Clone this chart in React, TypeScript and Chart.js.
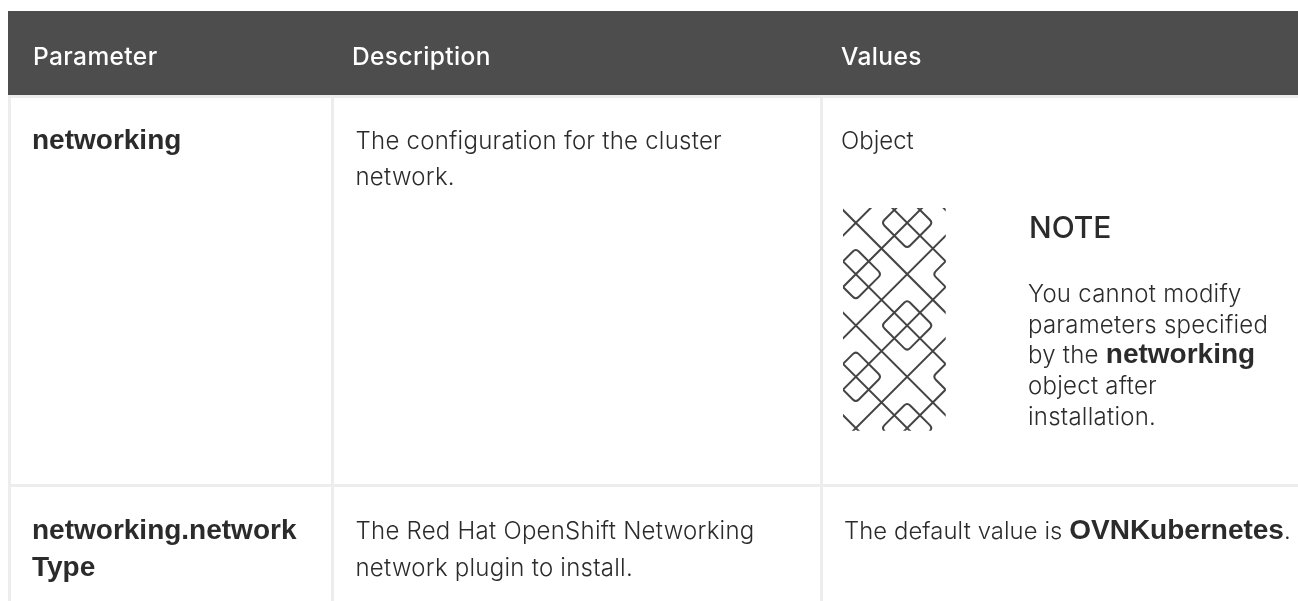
import React, { useEffect, useRef } from "react";
import { Chart, registerables } from "chart.js";

Chart.register(...registerables);

// ---- table content ----
const headers = ["Parameter", "Description", "Values"];
const rowNames = [["networking"], ["networking.network", "Type"]];
const descriptions = [
  ["The configuration for the cluster", "network."],
  ["The Red Hat OpenShift Networking", "network plugin to install."],
];
const objectValue = "Object";
const noteTitle = "NOTE";
const noteLines = [
  [["You cannot modify", false]],
  [["parameters specified", false]],
  [["by the ", false], ["networking", true]],
  [["object after", false]],
  [["installation.", false]],
];
const defaultValue = [["The default value is ", false], ["OVNKubernetes", true], [".", false]];

// pattern lattice: whole diagonals (mod 8) and diamonds, in lattice units
const diffLines = [0, 4];
const sumLines = [2, 6];
const diamonds = [[5, 1], [1, 5]];

const W = 1298;
const H = 601;
const REG = "Inter";
const BOLD = "'Liberation Sans'";
const INK = "#2b2b2b";
const RULE = "#ededed";

const tablePlugin = {
  id: "table",
  beforeDraw(chart: any) {
    const { ctx } = chart;
    const X = (v: number) => chart.scales.x.getPixelForValue(v);
    const Y = (v: number) => chart.scales.y.getPixelForValue(v);
    const rect = (x0: number, y0: number, x1: number, y1: number, c: string) => {
      ctx.fillStyle = c;
      ctx.fillRect(X(x0), Y(y0), X(x1) - X(x0), Y(y1) - Y(y0));
    };
    const reg = (s: number) => `300 ${s}px ${REG}`;
    const bold = (s: number) => `700 ${s}px ${BOLD}`;
    const text = (t: string, x: number, y: number, font: string, color = INK, sp = "0px") => {
      ctx.font = font;
      ctx.fillStyle = color;
      (ctx as any).letterSpacing = sp;
      ctx.textBaseline = "alphabetic";
      ctx.fillText(t, X(x), Y(y));
      const w = ctx.measureText(t).width;
      (ctx as any).letterSpacing = "0px";
      return w;
    };
    const runs = (parts: any[], x: number, y: number, s: number, bs: number, sp = "0px") => {
      let cx = x;
      for (const [t, b] of parts) cx += text(t, cx, y, b ? bold(bs) : reg(s), INK, b ? "0px" : sp);
    };

    ctx.save();
    rect(0, 0, W, H, "#ffffff");
    // rules
    rect(8, 95, W, 98, RULE);
    rect(8, 95, 11, H, RULE);
    rect(331, 95, 334, H, RULE);
    rect(820, 95, 823, H, RULE);
    rect(8, 484, W, 487, RULE);
    // header band
    rect(8, 11, W, 95, "#4d4d4d");
    const headX = [33, 352, 841];
    headers.forEach((h, i) => text(h, headX[i], 65, `500 24.5px ${REG}`, "#ffffff", "0.4px"));

    // first column
    rowNames[0].forEach((t, i) => text(t, 32, 149 + i * 36, bold(28)));
    rowNames[1].forEach((t, i) => text(t, 32, 539 + i * 36.5, bold(28)));
    // second column
    descriptions[0].forEach((t, i) => text(t, 355.5, 148.5 + i * 36.7, reg(24), INK, "0.25px"));
    descriptions[1].forEach((t, i) => text(t, 355.5, 539 + i * 36.7, reg(24), INK, "0.25px"));
    // third column
    text(objectValue, 841, 148.5, reg(24));
    text(noteTitle, 1029, 238, `500 30px ${REG}`);
    noteLines.forEach((l, i) => runs(l, 1028, 302 + i * 30.7, 24, 28, "0.25px"));
    runs(defaultValue, 844, 539, 23.8, 28, "0.1px");

    // note icon
    const ox = 843, oy = 210, u = 12.83;
    const px = (i: number) => X(ox + i * u);
    const py = (j: number) => Y(oy + j * u);
    ctx.beginPath();
    ctx.rect(X(843), Y(208), X(945.7) - X(843), Y(430.7) - Y(208));
    ctx.clip();
    (ctx as any).filter = "blur(0.6px)";
    ctx.strokeStyle = "#444444";
    ctx.lineWidth = 2;
    ctx.beginPath();
    for (let k = -24; k <= 24; k += 8) {
      for (const d of diffLines) {
        ctx.moveTo(px(-2), py(-2 - d - k));
        ctx.lineTo(px(10), py(10 - d - k));
      }
      for (const s of sumLines) {
        ctx.moveTo(px(-2), py(s + k + 2));
        ctx.lineTo(px(10), py(s + k - 10));
      }
    }
    ctx.stroke();
    ctx.lineJoin = "round";
    ctx.beginPath();
    for (const [ci, cj] of diamonds) {
      for (let a = -8; a <= 8; a += 8) {
        for (let b = -8; b <= 24; b += 8) {
          const cx = px(ci + a), cy = py(cj + b), r = 2 * u, q = 3;
          ctx.moveTo(cx - q, cy - r + q);
          ctx.quadraticCurveTo(cx, cy - r, cx + q, cy - r + q);
          ctx.lineTo(cx + r - q, cy - q);
          ctx.quadraticCurveTo(cx + r, cy, cx + r - q, cy + q);
          ctx.lineTo(cx + q, cy + r - q);
          ctx.quadraticCurveTo(cx, cy + r, cx - q, cy + r - q);
          ctx.lineTo(cx - r + q, cy + q);
          ctx.quadraticCurveTo(cx - r, cy, cx - r + q, cy - q);
          ctx.closePath();
        }
      }
    }
    ctx.stroke();
    (ctx as any).filter = "none";
    ctx.restore();
  },
};

export default function App() {
  const ref = useRef<HTMLCanvasElement>(null);
  useEffect(() => {
    document.body.style.margin = "0";
    const chart = new Chart(ref.current as HTMLCanvasElement, {
      type: "scatter",
      data: { datasets: [] },
      options: {
        animation: false,
        responsive: false,
        layout: { padding: 0 },
        plugins: { legend: { display: false }, tooltip: { enabled: false } },
        scales: {
          x: { type: "linear", min: 0, max: W, display: false },
          y: { type: "linear", min: 0, max: H, reverse: true, display: false },
        },
      },
      plugins: [tablePlugin],
    } as any);
    return () => chart.destroy();
  }, []);
  return <canvas ref={ref} width={W} height={H} style={{ display: "block" }} />;
}
